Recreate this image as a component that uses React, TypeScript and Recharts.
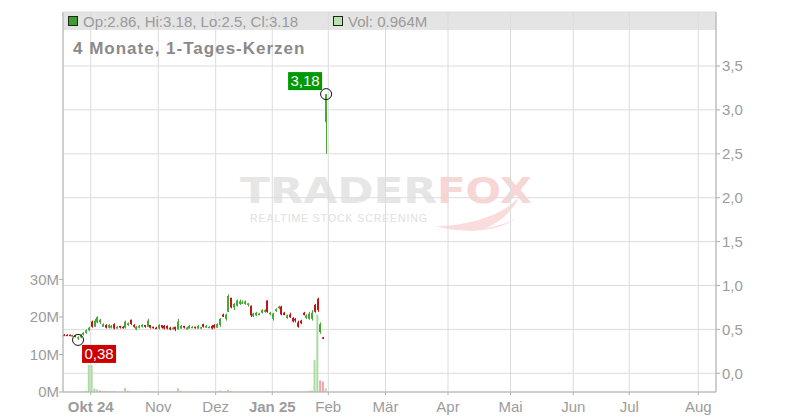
import React from "react";
import { ComposedChart, Bar, Cell, XAxis, YAxis, CartesianGrid, ReferenceDot } from "recharts";

const FONT = '"Liberation Sans", Arial, Helvetica, sans-serif';
const GREEN = "#47a836";
const RED = "#bf1519";
const VOL_GREEN = "#a9dca0";
const VOL_RED = "#f0a6ab";
const GRID = "#dcdcdc";
const AXIS = "#b0b0b0";
const TICK = "#9c9c9c";

// slot = trading-day index, 0 = first trading day of Oktober
const FIRST_SLOT = -10;

// daily candles [open, high, low, close]
const ohlc: [number, number, number, number][] = [
  // mid/late September
  [0.44, 0.445, 0.43, 0.435], [0.44, 0.445, 0.43, 0.435], [0.44, 0.44, 0.425, 0.43], [0.425, 0.44, 0.42, 0.435],
  [0.43, 0.435, 0.41, 0.415], [0.4, 0.42, 0.38, 0.41], [0.41, 0.45, 0.4, 0.44], [0.44, 0.47, 0.43, 0.46],
  [0.46, 0.5, 0.45, 0.49], [0.49, 0.53, 0.48, 0.52],
  // Oktober
  [0.59, 0.6, 0.52, 0.53], [0.53, 0.62, 0.53, 0.6], [0.58, 0.65, 0.57, 0.64], [0.58, 0.62, 0.56, 0.61],
  [0.53, 0.57, 0.53, 0.56], [0.55, 0.56, 0.51, 0.52], [0.52, 0.56, 0.51, 0.55], [0.52, 0.55, 0.51, 0.54],
  [0.56, 0.57, 0.5, 0.51], [0.51, 0.54, 0.51, 0.53], [0.54, 0.54, 0.51, 0.52], [0.53, 0.54, 0.51, 0.52],
  [0.52, 0.6, 0.51, 0.59], [0.55, 0.58, 0.54, 0.57], [0.61, 0.61, 0.55, 0.56], [0.55, 0.56, 0.52, 0.53],
  [0.5, 0.54, 0.49, 0.53], [0.52, 0.55, 0.51, 0.54], [0.53, 0.56, 0.52, 0.55], [0.55, 0.55, 0.52, 0.53],
  // November
  [0.53, 0.62, 0.53, 0.6], [0.55, 0.55, 0.51, 0.52], [0.53, 0.53, 0.51, 0.515], [0.52, 0.53, 0.505, 0.51],
  [0.51, 0.56, 0.5, 0.55], [0.55, 0.55, 0.51, 0.52], [0.54, 0.55, 0.5, 0.51], [0.54, 0.545, 0.5, 0.51],
  [0.52, 0.53, 0.49, 0.5], [0.5, 0.53, 0.5, 0.52], [0.53, 0.53, 0.48, 0.5], [0.5, 0.62, 0.5, 0.59],
  [0.51, 0.55, 0.51, 0.54], [0.54, 0.54, 0.51, 0.52], [0.5, 0.53, 0.5, 0.52], [0.51, 0.55, 0.51, 0.54],
  [0.52, 0.54, 0.52, 0.53], [0.53, 0.53, 0.51, 0.515], [0.51, 0.55, 0.51, 0.54], [0.52, 0.53, 0.51, 0.525],
  [0.56, 0.565, 0.52, 0.53], [0.52, 0.55, 0.52, 0.54], [0.52, 0.535, 0.52, 0.53], [0.54, 0.55, 0.5, 0.51],
  [0.55, 0.56, 0.51, 0.52],
  // Dezember
  [0.52, 0.57, 0.52, 0.56], [0.55, 0.63, 0.53, 0.62], [0.67, 0.68, 0.64, 0.645], [0.62, 0.68, 0.6, 0.67],
  [0.7, 0.9, 0.7, 0.88], [0.86, 0.86, 0.74, 0.75], [0.75, 0.8, 0.72, 0.79], [0.77, 0.84, 0.76, 0.83],
  [0.79, 0.84, 0.78, 0.82], [0.8, 0.83, 0.79, 0.81], [0.79, 0.83, 0.78, 0.82], [0.78, 0.8, 0.76, 0.795],
  [0.77, 0.77, 0.64, 0.66], [0.65, 0.69, 0.64, 0.68], [0.66, 0.7, 0.65, 0.69], [0.67, 0.69, 0.66, 0.68],
  [0.69, 0.73, 0.68, 0.72], [0.7, 0.73, 0.69, 0.72], [0.83, 0.83, 0.69, 0.7], [0.68, 0.7, 0.66, 0.69],
  // Januar
  [0.62, 0.69, 0.6, 0.68], [0.71, 0.74, 0.7, 0.73], [0.74, 0.77, 0.73, 0.76], [0.76, 0.77, 0.66, 0.67],
  [0.69, 0.7, 0.66, 0.665], [0.63, 0.67, 0.62, 0.66], [0.67, 0.69, 0.63, 0.64], [0.63, 0.64, 0.58, 0.59],
  [0.62, 0.63, 0.58, 0.6], [0.58, 0.6, 0.52, 0.53], [0.6, 0.61, 0.56, 0.57], [0.69, 0.7, 0.66, 0.665],
  [0.63, 0.67, 0.62, 0.66], [0.62, 0.7, 0.61, 0.68], [0.62, 0.72, 0.6, 0.69], [0.78, 0.79, 0.69, 0.7],
  [0.85, 0.86, 0.7, 0.72], [0.47, 0.58, 0.45, 0.56], [0.41, 0.415, 0.39, 0.395], [2.86, 3.18, 2.5, 3.18],
];

// daily volume, millions of shares
const volumeM = [
  0.05, 0.04, 0.05, 0.06, 0.05, 0.1, 0.08, 0.15, 0.3, 7.2,
  7.2, 0.9, 0.7, 0.4, 0.25, 0.3, 0.25, 0.2, 0.25, 0.1,
  0.15, 0.1, 1.1, 0.3, 0.15, 0.1, 0.12, 0.08, 0.1, 0.15,
  0.2, 0.1, 0.08, 0.1, 0.12, 0.1, 0.15, 0.1, 0.08, 0.1,
  0.12, 1.0, 0.3, 0.1, 0.08, 0.1, 0.12, 0.1, 0.08, 0.1,
  0.1, 0.12, 0.1, 0.1, 0.15, 0.12, 0.4, 0.2, 0.3, 0.6,
  0.3, 0.15, 0.12, 0.1, 0.1, 0.12, 0.15, 0.1, 0.1, 0.12,
  0.1, 0.1, 0.12, 0.15, 0.1, 0.12, 0.1, 0.1, 0.12, 0.1,
  0.12, 0.1, 0.1, 0.15, 0.1, 0.12, 0.1, 0.15, 0.3, 0.4,
  8.5, 20.6, 3.1, 2.8, 0.964,
];

// month gridlines, in trading-day slots
const monthTicks = [-0.47, 23.79, 44.38, 64.69, 84.79, 105.31, 127.74, 150.16, 172.69, 192.79, 217.54];
const monthLabels = ["Okt 24", "Nov", "Dez", "Jan 25", "Feb", "Mär", "Apr", "Mai", "Jun", "Jul", "Aug"];

const priceTicks = [0, 0.5, 1, 1.5, 2, 2.5, 3, 3.5];
const volumeTicks = [0, 10, 20, 30];

const lowPoint = { slot: -5, value: 0.38, label: "0,38" };
const highPoint = { slot: 84, value: 3.18, label: "3,18" };

const legendText = "Op:2.86, Hi:3.18, Lo:2.5, Cl:3.18";
const volText = "Vol: 0.964M";
const title = "4 Monate, 1-Tages-Kerzen";

const data = ohlc.map(([o, h, l, c], i) => ({
  slot: FIRST_SLOT + i,
  o,
  h,
  l,
  c,
  range: [l, h],
  vol: volumeM[i],
  volUp: i === 0 || c >= ohlc[i - 1][3],
}));

function Candle(props: any) {
  const { x, y, width, height, payload } = props;
  if (x == null || !payload) return null;
  const top = Math.min(y, y + height);
  const bot = Math.max(y, y + height);
  const span = payload.h - payload.l;
  const toPx = (v: number) => (span > 0 ? top + ((payload.h - v) / span) * (bot - top) : top);
  const cx = Math.round(x + width / 2);
  const col = payload.c >= payload.o ? GREEN : RED;
  const bTop = toPx(Math.max(payload.o, payload.c));
  const bBot = toPx(Math.min(payload.o, payload.c));
  return (
    <g>
      <rect x={cx} y={top} width={1} height={Math.max(1, bot - top)} fill={col} />
      <rect x={cx - 1} y={bTop} width={2} height={Math.max(1.5, bBot - bTop)} fill={col} />
    </g>
  );
}

function Marker({ cx, cy, text, color, dx, dy }: any) {
  if (cx == null) return null;
  return (
    <g>
      <circle cx={cx} cy={cy} r={5.5} fill="none" stroke="#111" strokeWidth={1} />
      <rect x={cx + dx} y={cy + dy} width={34} height={18} fill={color} />
      <text x={cx + dx + 17} y={cy + dy + 14} textAnchor="middle" fill="#fff" fontSize={15} fontFamily={FONT}>
        {text}
      </text>
    </g>
  );
}

function MonthTick(props: any) {
  const { x, y, payload } = props;
  const idx = monthTicks.indexOf(payload.value);
  const label = monthLabels[idx] ?? "";
  const bold = /\d/.test(label);
  return (
    <text x={x} y={y} dy="0.71em" textAnchor="middle" fill={TICK} fontSize={15} fontFamily={FONT} fontWeight={bold ? 700 : 400}>
      {label}
    </text>
  );
}

function VolTick(props: any) {
  const { x, y, payload } = props;
  return (
    <text x={x} y={y} dy="0.355em" textAnchor="end" fill={TICK} fontSize={15} fontFamily={FONT}>
      {`${payload.value}M`}
    </text>
  );
}

function PriceTick(props: any) {
  const { x, y, payload } = props;
  return (
    <text x={x} y={y} dy="0.355em" textAnchor="start" fill={TICK} fontSize={15} fontFamily={FONT}>
      {Number(payload.value).toFixed(1).replace(".", ",")}
    </text>
  );
}

const xDomain: [number, number] = [-10.4, 223.9];

export default function App() {
  return (
    <div style={{ position: "absolute", left: 0, top: 0, width: 800, height: 420, background: "#fff", fontFamily: FONT }}>
      {/* background: header band + watermark */}
      <svg width={800} height={420} style={{ position: "absolute", left: 0, top: 0 }}>
        <rect x={63} y={12} width={653} height={18} fill="#e4e4e4" />
        <text x={240} y={203} fontSize={36} fontWeight={700} fontFamily='"DejaVu Sans", sans-serif' fill="#e6e6e6" textLength={197} lengthAdjust="spacingAndGlyphs">
          TRADER
        </text>
        <text x={437} y={203} fontSize={36} fontWeight={700} fontFamily='"DejaVu Sans", sans-serif' fill="#f9d6d6" textLength={95} lengthAdjust="spacingAndGlyphs">
          FOX
        </text>
        <path d="M436 226 C 470 226, 505 214, 520 196 C 512 212, 500 222, 486 228 C 500 226, 510 222, 516 218 C 500 232, 460 234, 436 226 Z" fill="#fadcdc" />
        <text x={250} y={222} fontSize={10.5} fontFamily={FONT} fill="#e0e0e0" textLength={177} lengthAdjust="spacing">
          REALTIME STOCK SCREENING
        </text>
      </svg>

      <div style={{ position: "absolute", left: 0, top: 0 }}>
        <ComposedChart width={800} height={420} data={data} margin={{ top: 12, right: 0, bottom: 0, left: 0 }}>
          <CartesianGrid xAxisId="main" yAxisId="price" stroke={GRID} strokeWidth={1} />
          <XAxis
            xAxisId="main"
            dataKey="slot"
            type="number"
            domain={xDomain}
            allowDataOverflow
            ticks={monthTicks}
            interval={0}
            height={28}
            tickSize={3}
            tickMargin={6}
            stroke={AXIS}
            tick={<MonthTick />}
          />
          <XAxis xAxisId="vx" dataKey="slot" type="number" domain={xDomain} allowDataOverflow hide />
          <YAxis
            yAxisId="vol"
            orientation="left"
            width={63}
            domain={[0, 101.3]}
            allowDataOverflow
            ticks={volumeTicks}
            interval={0}
            tickSize={4}
            tickMargin={0}
            stroke={AXIS}
            tick={<VolTick />}
          />
          <YAxis
            yAxisId="price"
            orientation="right"
            width={84}
            domain={[-0.213, 4.115]}
            allowDataOverflow
            ticks={priceTicks}
            interval={0}
            tickSize={4}
            tickMargin={2}
            stroke={AXIS}
            tick={<PriceTick />}
          />
          <Bar xAxisId="vx" yAxisId="vol" dataKey="vol" barSize={2} isAnimationActive={false}>
            {data.map((d, i) => (
              <Cell key={i} fill={d.volUp ? VOL_GREEN : VOL_RED} />
            ))}
          </Bar>
          <Bar xAxisId="main" yAxisId="price" dataKey="range" barSize={3} isAnimationActive={false} shape={<Candle />} />
          <ReferenceDot
            xAxisId="main"
            yAxisId="price"
            x={lowPoint.slot}
            y={lowPoint.value}
            shape={(p: any) => <Marker cx={p.cx} cy={p.cy} text={lowPoint.label} color="#cc0000" dx={4} dy={5} />}
          />
          <ReferenceDot
            xAxisId="main"
            yAxisId="price"
            x={highPoint.slot}
            y={highPoint.value}
            shape={(p: any) => <Marker cx={p.cx} cy={p.cy} text={highPoint.label} color="#009a00" dx={-38} dy={-22} />}
          />
        </ComposedChart>
      </div>

      {/* legend + title */}
      <svg width={800} height={60} style={{ position: "absolute", left: 0, top: 0, pointerEvents: "none" }}>
        <rect x={68.5} y={16.5} width={9} height={9} fill="#3e9e2a" stroke="#222" />
        <text x={83} y={26.5} fontSize={15} fontFamily={FONT} fill="#9a9a9a">
          {legendText}
        </text>
        <rect x={333.5} y={16.5} width={9} height={9} fill="#b6e2ae" stroke="#222" />
        <text x={348} y={26.5} fontSize={15} fontFamily={FONT} fill="#9a9a9a">
          {volText}
        </text>
        <text x={73} y={54} fontSize={17} fontWeight={700} letterSpacing={1} fontFamily={FONT} fill="#8a8a8a">
          {title}
        </text>
      </svg>
    </div>
  );
}
